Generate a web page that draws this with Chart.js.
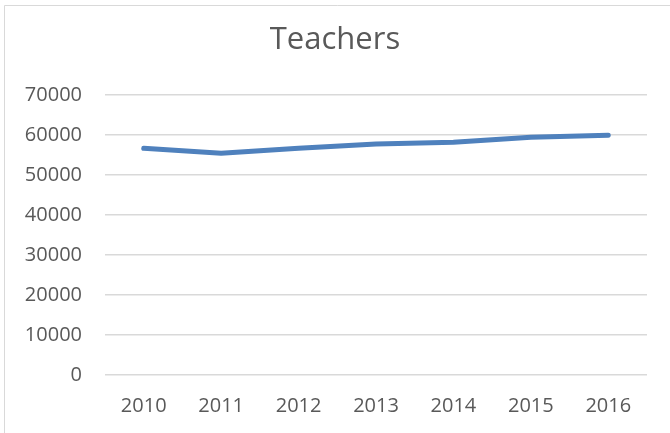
<!DOCTYPE html>
<html>
<head>
<meta charset="utf-8">
<script src="https://cdn.jsdelivr.net/npm/chart.js@4"></script>
<style>
  html, body { margin: 0; padding: 0; background: #fff; }
  #wrap { width: 670px; height: 433px; position: relative; }
</style>
</head>
<body>
<div id="wrap"><canvas id="teachersChart" width="670" height="433"></canvas></div>
<script>
// ==================== DATA ====================
const years = ['2010', '2011', '2012', '2013', '2014', '2015', '2016'];
const teachers = [56700, 55500, 56700, 57800, 58200, 59500, 60000];
const yTicks = [0, 10000, 20000, 30000, 40000, 50000, 60000, 70000];

const textColor = '#595959';
const gridColor = '#d9d9d9';

// thin frame along the top and left edge, like the office chart box
const frame = {
  id: 'frame',
  beforeDraw: (chart) => {
    const { ctx, width, height } = chart;
    ctx.save();
    ctx.fillStyle = '#fff';
    ctx.fillRect(0, 0, width, height);
    ctx.strokeStyle = gridColor;
    ctx.lineWidth = 1;
    ctx.beginPath();
    ctx.moveTo(4.5, height);
    ctx.lineTo(4.5, 5.5);
    ctx.lineTo(width, 5.5);
    ctx.stroke();
    ctx.restore();
  }
};

new Chart(document.getElementById('teachersChart'), {
  type: 'line',
  data: {
    labels: years,
    datasets: [{
      label: 'Teachers',
      data: teachers,
      borderColor: '#4F81BD',
      borderWidth: 5,
      borderCapStyle: 'round',
      borderJoinStyle: 'round',
      pointRadius: 0,
      tension: 0,
      fill: false
    }]
  },
  options: {
    responsive: false,
    animation: false,
    layout: { padding: { left: 0, right: 0, top: 0, bottom: 0 } },
    plugins: {
      legend: { display: false },
      tooltip: { enabled: false },
      title: {
        display: true,
        text: 'Teachers',
        color: textColor,
        font: { family: '"Open Sans", sans-serif', size: 31, weight: 'normal' },
        padding: { top: 22, bottom: 36 }
      }
    },
    scales: {
      x: {
        offset: true,
        grid: { display: false, tickLength: 4 },
        border: { display: false },
        ticks: {
          color: textColor,
          padding: 15,
          font: { family: '"Open Sans", sans-serif', size: 20 }
        }
      },
      y: {
        min: 0,
        max: 70000,
        afterFit: (scale) => { scale.width = 105; },
        afterBuildTicks: (scale) => { scale.ticks = yTicks.map(v => ({ value: v })); },
        grid: { color: gridColor, lineWidth: 1.5, drawTicks: false },
        border: { display: false },
        ticks: {
          color: textColor,
          padding: 23,
          font: { family: '"Open Sans", sans-serif', size: 20 },
          callback: (v) => String(v)
        }
      },
      // empty right gutter so the title centres on the whole box
      gutter: {
        type: 'linear',
        position: 'right',
        afterFit: (scale) => { scale.width = 23; },
        grid: { display: false },
        border: { display: false },
        ticks: { display: false }
      }
    }
  },
  plugins: [frame]
});
</script>
</body>
</html>
